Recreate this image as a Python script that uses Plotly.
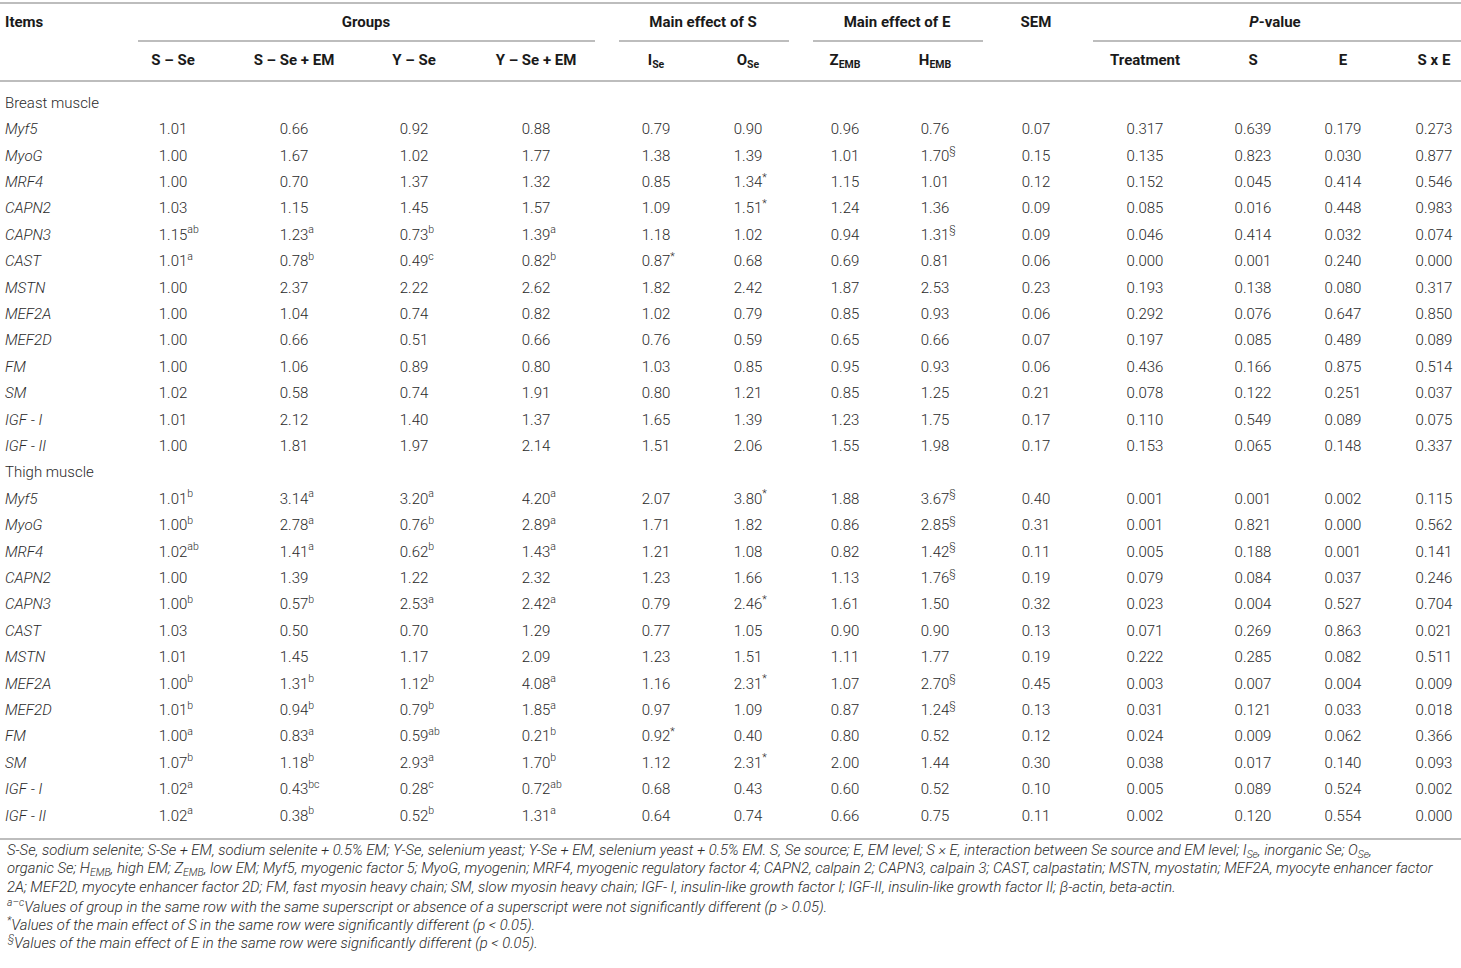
import plotly.graph_objects as go

# ---- table data (breast muscle rows first, then thigh muscle rows) ----
items = ["Myf5", "MyoG", "MRF4", "CAPN2", "CAPN3", "CAST", "MSTN",
         "MEF2A", "MEF2D", "FM", "SM", "IGF - I", "IGF - II"]
sections = ["Breast muscle", "Thigh muscle"]

group_headers = ["Groups", "Main effect of S", "Main effect of E", "SEM", "<i>P</i>-value"]
col_headers = ["S – Se", "S – Se + EM", "Y – Se", "Y – Se + EM",
               "I<sub>Se</sub>", "O<sub>Se</sub>", "Z<sub>EMB</sub>", "H<sub>EMB</sub>",
               "", "Treatment", "S", "E", "S x E"]

s_se = ["1.01", "1.00", "1.00", "1.03", "1.15ab", "1.01a", "1.00", "1.00", "1.00", "1.00", "1.02", "1.01", "1.00",
        "1.01b", "1.00b", "1.02ab", "1.00", "1.00b", "1.03", "1.01", "1.00b", "1.01b", "1.00a", "1.07b", "1.02a", "1.02a"]
s_se_em = ["0.66", "1.67", "0.70", "1.15", "1.23a", "0.78b", "2.37", "1.04", "0.66", "1.06", "0.58", "2.12", "1.81",
           "3.14a", "2.78a", "1.41a", "1.39", "0.57b", "0.50", "1.45", "1.31b", "0.94b", "0.83a", "1.18b", "0.43bc", "0.38b"]
y_se = ["0.92", "1.02", "1.37", "1.45", "0.73b", "0.49c", "2.22", "0.74", "0.51", "0.89", "0.74", "1.40", "1.97",
        "3.20a", "0.76b", "0.62b", "1.22", "2.53a", "0.70", "1.17", "1.12b", "0.79b", "0.59ab", "2.93a", "0.28c", "0.52b"]
y_se_em = ["0.88", "1.77", "1.32", "1.57", "1.39a", "0.82b", "2.62", "0.82", "0.66", "0.80", "1.91", "1.37", "2.14",
           "4.20a", "2.89a", "1.43a", "2.32", "2.42a", "1.29", "2.09", "4.08a", "1.85a", "0.21b", "1.70b", "0.72ab", "1.31a"]
i_se = ["0.79", "1.38", "0.85", "1.09", "1.18", "0.87*", "1.82", "1.02", "0.76", "1.03", "0.80", "1.65", "1.51",
        "2.07", "1.71", "1.21", "1.23", "0.79", "0.77", "1.23", "1.16", "0.97", "0.92*", "1.12", "0.68", "0.64"]
o_se = ["0.90", "1.39", "1.34*", "1.51*", "1.02", "0.68", "2.42", "0.79", "0.59", "0.85", "1.21", "1.39", "2.06",
        "3.80*", "1.82", "1.08", "1.66", "2.46*", "1.05", "1.51", "2.31*", "1.09", "0.40", "2.31*", "0.43", "0.74"]
z_emb = ["0.96", "1.01", "1.15", "1.24", "0.94", "0.69", "1.87", "0.85", "0.65", "0.95", "0.85", "1.23", "1.55",
         "1.88", "0.86", "0.82", "1.13", "1.61", "0.90", "1.11", "1.07", "0.87", "0.80", "2.00", "0.60", "0.66"]
h_emb = ["0.76", "1.70§", "1.01", "1.36", "1.31§", "0.81", "2.53", "0.93", "0.66", "0.93", "1.25", "1.75", "1.98",
         "3.67§", "2.85§", "1.42§", "1.76§", "1.50", "0.90", "1.77", "2.70§", "1.24§", "0.52", "1.44", "0.52", "0.75"]
sem = ["0.07", "0.15", "0.12", "0.09", "0.09", "0.06", "0.23", "0.06", "0.07", "0.06", "0.21", "0.17", "0.17",
       "0.40", "0.31", "0.11", "0.19", "0.32", "0.13", "0.19", "0.45", "0.13", "0.12", "0.30", "0.10", "0.11"]
p_trt = ["0.317", "0.135", "0.152", "0.085", "0.046", "0.000", "0.193", "0.292", "0.197", "0.436", "0.078", "0.110", "0.153",
         "0.001", "0.001", "0.005", "0.079", "0.023", "0.071", "0.222", "0.003", "0.031", "0.024", "0.038", "0.005", "0.002"]
p_s = ["0.639", "0.823", "0.045", "0.016", "0.414", "0.001", "0.138", "0.076", "0.085", "0.166", "0.122", "0.549", "0.065",
       "0.001", "0.821", "0.188", "0.084", "0.004", "0.269", "0.285", "0.007", "0.121", "0.009", "0.017", "0.089", "0.120"]
p_e = ["0.179", "0.030", "0.414", "0.448", "0.032", "0.240", "0.080", "0.647", "0.489", "0.875", "0.251", "0.089", "0.148",
       "0.002", "0.000", "0.001", "0.037", "0.527", "0.863", "0.082", "0.004", "0.033", "0.062", "0.140", "0.524", "0.554"]
p_sxe = ["0.273", "0.877", "0.546", "0.983", "0.074", "0.000", "0.317", "0.850", "0.089", "0.514", "0.037", "0.075", "0.337",
         "0.115", "0.562", "0.141", "0.246", "0.704", "0.021", "0.511", "0.009", "0.018", "0.366", "0.093", "0.002", "0.000"]

footnotes = [
    "S-Se, sodium selenite; S-Se + EM, sodium selenite + 0.5% EM; Y-Se, selenium yeast; Y-Se + EM, selenium yeast + 0.5% EM. "
    "S, Se source; E, EM level; S × E, interaction between Se source and EM level; I<sub>Se</sub>, inorganic Se; O<sub>Se</sub>,",
    "organic Se; H<sub>EMB</sub>, high EM; Z<sub>EMB</sub>, low EM; Myf5, myogenic factor 5; MyoG, myogenin; MRF4, myogenic "
    "regulatory factor 4; CAPN2, calpain 2; CAPN3, calpain 3; CAST, calpastatin; MSTN, myostatin; MEF2A, myocyte enhancer factor",
    "2A; MEF2D, myocyte enhancer factor 2D; FM, fast myosin heavy chain; SM, slow myosin heavy chain; IGF- I, insulin-like growth "
    "factor I; IGF-II, insulin-like growth factor II; β-actin, beta-actin.",
    "<sup>a–c</sup>Values of group in the same row with the same superscript or absence of a superscript were not significantly "
    "different (p &gt; 0.05).",
    "<sup>*</sup>Values of the main effect of S in the same row were significantly different (p &lt; 0.05).",
    "<sup>§</sup>Values of the main effect of E in the same row were significantly different (p &lt; 0.05).",
]

columns = [s_se, s_se_em, y_se, y_se_em, i_se, o_se, z_emb, h_emb, sem, p_trt, p_s, p_e, p_sxe]

# ---- layout constants (page pixels) ----
W, H = 1461, 968
COL_X = [173, 294, 414, 536, 656, 748, 845, 935, 1036, 1145, 1253, 1343, 1434]
GROUP_X = [366, 703, 897, 1036, 1275]
GROUP_LINES = [(138, 595), (619, 789), (813, 983), (1093, 1461)]
HEAD1_Y, HEAD2_Y = 23, 61
ROW0_Y, ROW_H = 104, 26.4
FOOT0_Y, FOOT_H = 851, 18.2
FONT = "Roboto, 'Liberation Sans', sans-serif"
TXT = "#2a2a2a"
HEAD = "#1a1a1a"
LINE = "#bdbdbd"


def row_y(i):
    return ROW0_Y + i * ROW_H


def cell(s):
    num = s.rstrip("abc*§")
    sup = s[len(num):]
    if not sup:
        return num
    # invisible copy on the left keeps the number itself centred
    return f'<span style="color:rgba(0,0,0,0)"><sup>{sup}</sup></span>{num}<sup>{sup}</sup>'


# row order: section label, 13 items, section label, 13 items
row_labels = []
data_rows = []
for sec in sections:
    row_labels.append(sec)
    for it in items:
        data_rows.append(len(row_labels))
        row_labels.append(f"<i>{it}</i>")

body_font = dict(family=FONT, size=15, color=TXT, weight=300)
head_font = dict(family=FONT, size=15, color=HEAD, weight="bold")

fig = go.Figure()

# first column (items)
fig.add_trace(go.Scatter(
    x=[5] * len(row_labels), y=[row_y(i) for i in range(len(row_labels))],
    text=row_labels, mode="text", textposition="middle right",
    textfont=body_font, hoverinfo="skip", showlegend=False, cliponaxis=False,
))

# value columns
for cx, col in zip(COL_X, columns):
    fig.add_trace(go.Scatter(
        x=[cx] * len(col), y=[row_y(r) for r in data_rows],
        text=[cell(v) for v in col], mode="text", textposition="middle center",
        textfont=body_font, hoverinfo="skip", showlegend=False, cliponaxis=False,
    ))

# headers
fig.add_trace(go.Scatter(
    x=[5], y=[HEAD1_Y], text=["Items"], mode="text", textposition="middle right",
    textfont=head_font, hoverinfo="skip", showlegend=False, cliponaxis=False,
))
fig.add_trace(go.Scatter(
    x=GROUP_X, y=[HEAD1_Y] * len(GROUP_X), text=group_headers, mode="text",
    textposition="middle center", textfont=head_font,
    hoverinfo="skip", showlegend=False, cliponaxis=False,
))
fig.add_trace(go.Scatter(
    x=COL_X, y=[HEAD2_Y] * len(COL_X), text=col_headers, mode="text",
    textposition="middle center", textfont=head_font,
    hoverinfo="skip", showlegend=False, cliponaxis=False,
))

# rules
line = dict(color=LINE, width=2)
shapes = [
    dict(type="line", x0=0, x1=W, y0=3, y1=3, line=line),
    dict(type="line", x0=0, x1=W, y0=81, y1=81, line=line),
    dict(type="line", x0=0, x1=W, y0=839, y1=839, line=line),
]
for x0, x1 in GROUP_LINES:
    shapes.append(dict(type="line", x0=x0, x1=x1, y0=41, y1=41, line=line))
for s in shapes:
    s.update(xref="x", yref="y", layer="below")

# footnotes
annotations = []
for k, t in enumerate(footnotes):
    annotations.append(dict(
        x=5, y=FOOT0_Y + k * FOOT_H, xref="x", yref="y", text=f"<i>{t}</i>",
        showarrow=False, xanchor="left", yanchor="middle", align="left",
        font=dict(family=FONT, size=14.8, color=TXT, weight=300),
    ))

fig.update_layout(
    width=W, height=H, margin=dict(l=0, r=0, t=0, b=0),
    paper_bgcolor="white", plot_bgcolor="white",
    xaxis=dict(range=[0, W], visible=False, fixedrange=True),
    yaxis=dict(range=[H, 0], visible=False, fixedrange=True),
    shapes=shapes, annotations=annotations,
)

# drop the default 8px page margin so the figure fills the window exactly
fig.write_html("out.html", config={"displayModeBar": False},
               post_script="document.body.style.margin = '0px';")
